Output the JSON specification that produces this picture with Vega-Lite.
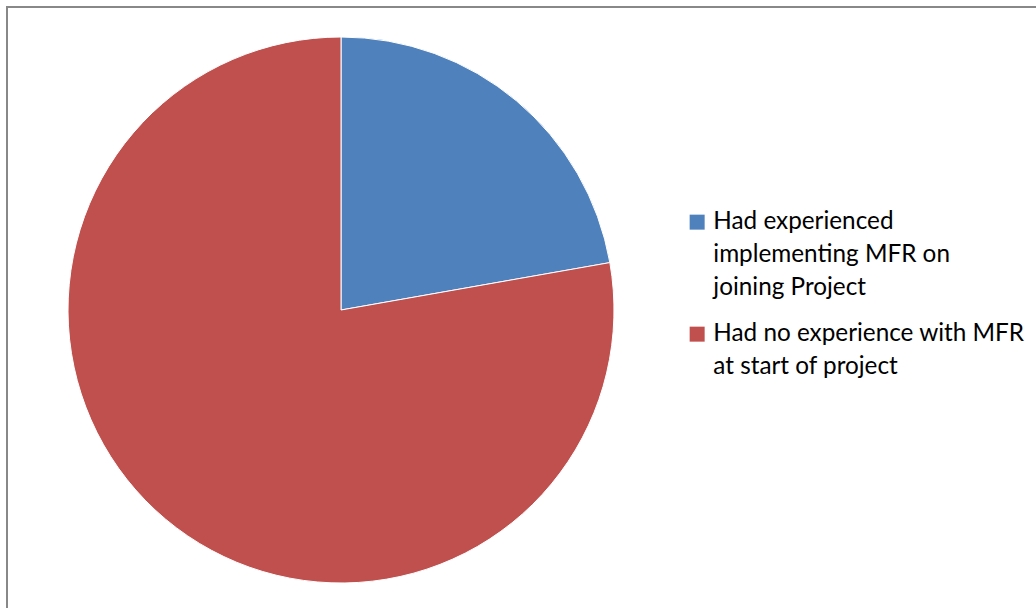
{
  "$schema": "https://vega.github.io/schema/vega-lite/v6.json",
  "width": 1040,
  "height": 610,
  "autosize": "none",
  "padding": {"left": 7, "top": 7, "right": 0, "bottom": 0},
  "background": "white",
  "config": {"view": {"stroke": null}, "style": {"guide-label": {"lineHeight": 33}}},
  "data": {
    "values": [
      {"group": "Had experienced implementing MFR on joining Project", "value": 2, "order": 1},
      {"group": "Had no experience with MFR at start of project", "value": 7, "order": 2}
    ]
  },
  "layer": [
    {
      "mark": {"type": "rect", "fill": null, "stroke": "#888888", "strokeWidth": 2},
      "encoding": {}
    },
    {
      "mark": {"type": "arc", "x": 334, "y": 303, "outerRadius": 273, "stroke": "white", "strokeWidth": 1},
      "encoding": {
        "theta": {"field": "value", "type": "quantitative", "stack": true},
        "order": {"field": "order", "type": "quantitative"},
        "color": {
          "field": "group",
          "type": "nominal",
          "scale": {
            "domain": ["Had experienced implementing MFR on joining Project", "Had no experience with MFR at start of project"],
            "range": ["#4F81BD", "#C0504D"]
          },
          "legend": {
            "title": null,
            "orient": "none",
            "legendX": 678,
            "legendY": 203,
            "symbolType": "square",
            "symbolSize": 225,
            "symbolStrokeWidth": 0,
            "labelFont": "Lato",
            "labelFontSize": 24.3,
            "labelColor": "#000000",
            "labelLimit": 400,
            "labelOffset": 4,
            "labelBaseline": "middle",
            "rowPadding": 21,
            "labelExpr": "datum.label == 'Had experienced implementing MFR on joining Project' ? ['Had experienced', 'implementing MFR on', 'joining Project'] : ['Had no experience with MFR', 'at start of project']"
          }
        }
      }
    }
  ]
}
